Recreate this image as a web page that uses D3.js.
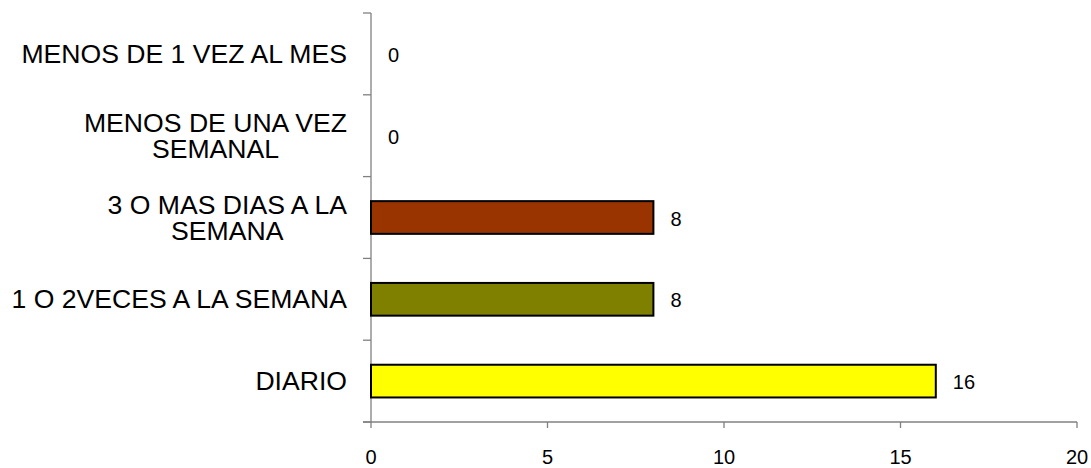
<!DOCTYPE html>
<html><head><meta charset="utf-8">
<script src="https://cdn.jsdelivr.net/npm/d3@7"></script>
<style>body{margin:0;background:#fff}svg{display:block}text{font-family:"Liberation Sans",Arial,sans-serif;fill:#000}</style>
</head><body><svg id="c" width="1091" height="468"></svg>
<script>
const categories = [["MENOS DE 1 VEZ AL MES"],["MENOS DE UNA VEZ","SEMANAL"],["3 O MAS DIAS A LA","SEMANA"],["1 O 2VECES A LA SEMANA"],["DIARIO"]];
const values = [0,0,8,8,16];
const colors = ["#ffffff","#ffffff","#993300","#808000","#ffff00"];
const xTicks = [0,5,10,15,20];

const svg = d3.select("#c");
const L=371, R=1077, T=13, B=422;
const x = d3.scaleLinear().domain([0,20]).range([L,R]);
const y = d3.scaleBand().domain(d3.range(categories.length)).range([T,B]).paddingInner(0.6).paddingOuter(0.3);
const yb = d3.scaleBand().domain(d3.range(categories.length)).range([T,B]);
const axisColor = "#808080";

// y axis
svg.append("line").attr("x1",L).attr("x2",L).attr("y1",T).attr("y2",B).attr("stroke",axisColor).attr("stroke-width",1.3);
const yTickPos = d3.range(categories.length+1).map(i=>T+i*yb.step());
svg.selectAll(".yt").data(yTickPos).enter().append("line").attr("x1",L-8).attr("x2",L).attr("y1",d=>d).attr("y2",d=>d).attr("stroke",axisColor).attr("stroke-width",1.3);
// x axis
svg.append("line").attr("x1",L-8).attr("x2",R).attr("y1",B).attr("y2",B).attr("stroke",axisColor).attr("stroke-width",1.3);
svg.selectAll(".xt").data(xTicks).enter().append("line").attr("x1",d=>x(d)).attr("x2",d=>x(d)).attr("y1",B).attr("y2",B+6).attr("stroke",axisColor).attr("stroke-width",1.3);
svg.selectAll(".xl").data(xTicks).enter().append("text").attr("x",d=>x(d)).attr("y",B+42).attr("text-anchor","middle").attr("font-size",20).text(d=>d);

// bars and value labels
values.forEach((v,i)=>{
  if(v>0) svg.append("rect").attr("x",L).attr("y",y(i)).attr("width",x(v)-L).attr("height",y.bandwidth())
    .attr("fill",colors[i]).attr("stroke","#000").attr("stroke-width",2);
  svg.append("text").attr("x",x(v)+17).attr("y",yb(i)+yb.bandwidth()/2+8).attr("font-size",20).text(v);
});

// category labels
categories.forEach((lines,i)=>{
  const g = svg.append("g");
  const lh = 26;
  const cy = yb(i)+yb.bandwidth()/2;
  const ts = lines.map((s,k)=>g.append("text").attr("font-size",26.6).attr("y",cy+9+(k-(lines.length-1)/2)*lh).text(s));
  const w = d3.max(ts,t=>t.node().getComputedTextLength());
  ts.forEach(t=>t.attr("text-anchor","middle").attr("x",347-w/2));
});
</script></body></html>
